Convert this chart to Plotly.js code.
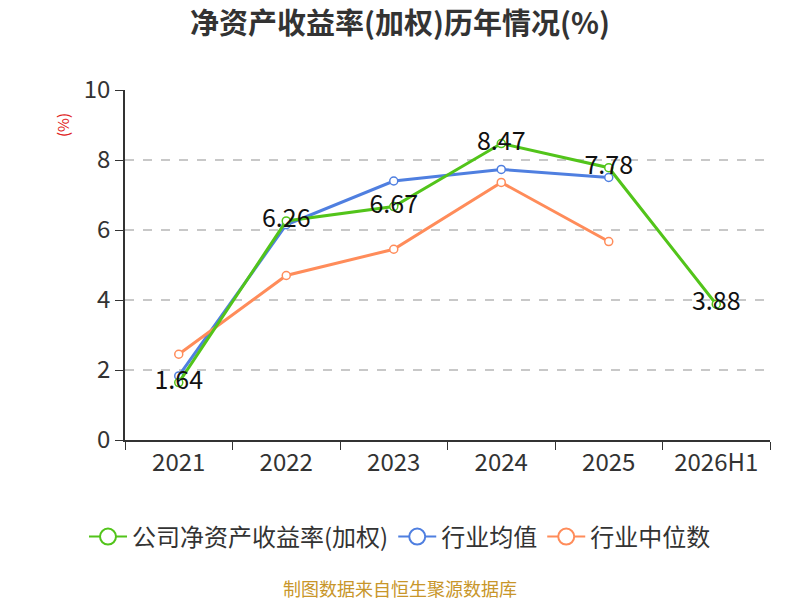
<!DOCTYPE html>
<html>
<head>
<meta charset="utf-8">
<script src="https://cdn.plot.ly/plotly-3.0.1.min.js"></script>
<style>
  html, body { margin: 0; padding: 0; background: #fff; }
  #chart { width: 800px; height: 600px; }
</style>
</head>
<body>
<div id="chart"></div>
<script>
/* ── data ── */
const years      = ["2021", "2022", "2023", "2024", "2025", "2026H1"];
const roeCompany = [1.64, 6.26, 6.67, 8.47, 7.78, 3.88];
const roeAvg     = [1.83, 6.15, 7.40, 7.73, 7.50, null];
const roeMedian  = [2.45, 4.70, 5.45, 7.36, 5.67, null];

const GREEN  = "#52c41a";
const BLUE   = "#4f7fe0";
const ORANGE = "#ff8c5a";
const FONT   = "'Noto Sans CJK SC', 'Noto Sans', sans-serif";

function series(name, y, color, withText) {
  const t = {
    type: "scatter",
    mode: withText ? "lines+markers+text" : "lines+markers",
    name: name,
    x: years,
    y: y,
    line: { color: color, width: 3 },
    marker: { symbol: "circle", size: 8, color: "#fff", line: { color: color, width: 1.5 } },
    showlegend: false,
    hoverinfo: "x+y",
  };
  if (withText) {
    t.text = y.map(v => v.toFixed(2));
    t.textposition = "middle center";
    t.textfont = { size: 25, color: "#111", family: FONT };
  }
  return t;
}

/* legend-only entries with bigger open circles */
function legendItem(name, color) {
  return {
    type: "scatter", mode: "lines+markers", name: name,
    x: [null], y: [null],
    line: { color: color, width: 2 },
    marker: { symbol: "circle", size: 16, color: "#fff", line: { color: color, width: 2 } },
    hoverinfo: "skip",
  };
}

const traces = [
  series("行业均值", roeAvg, BLUE, false),
  series("行业中位数", roeMedian, ORANGE, false),
  series("公司净资产收益率(加权)", roeCompany, GREEN, true),
  legendItem("公司净资产收益率(加权)", GREEN),
  legendItem("行业均值", BLUE),
  legendItem("行业中位数", ORANGE),
];

const layout = {
  width: 800,
  height: 600,
  paper_bgcolor: "#fff",
  plot_bgcolor: "#fff",
  font: { family: FONT, color: "#333", size: 18 },
  margin: { l: 125, r: 30, t: 90, b: 160 },
  title: {
    text: "<b>净资产收益率(加权)历年情况(%)</b>",
    font: { size: 29, color: "#333", family: FONT },
    x: 0.5, xanchor: "center",
    y: 1 - 24 / 600, yref: "container", yanchor: "middle",
  },
  xaxis: {
    type: "category",
    range: [-0.5, 5.5],
    showgrid: false,
    showline: true,
    linecolor: "#333",
    linewidth: 1.5,
    ticks: "outside",
    tickson: "boundaries",
    ticklen: 8,
    tickcolor: "#333",
    tickfont: { size: 24, color: "#333" },
    zeroline: false,
  },
  yaxis: {
    range: [0, 10],
    dtick: 2,
    showgrid: true,
    gridcolor: "#c8c8c8",
    griddash: "dash",
    gridwidth: 1.5,
    showline: true,
    linecolor: "#333",
    linewidth: 1.5,
    ticks: "outside",
    ticklen: 8,
    tickcolor: "#333",
    tickfont: { size: 24, color: "#333" },
    zeroline: false,
  },
  legend: {
    orientation: "h",
    xref: "container", yref: "container",
    x: 0.5, xanchor: "center",
    y: 1 - 537 / 600, yanchor: "middle",
    font: { size: 24, color: "#333" },
    itemwidth: 38,
    traceorder: "normal",
  },
  annotations: [
    {
      text: "(%)", xref: "paper", yref: "paper",
      x: (62 - 125) / 645, y: 0.9, showarrow: false, textangle: -90,
      xanchor: "center", yanchor: "middle",
      font: { size: 15, color: "#e02020" },
    },
    {
      text: "制图数据来自恒生聚源数据库", xref: "paper", yref: "paper",
      x: (400 - 125) / 645, y: -0.423, showarrow: false,
      xanchor: "center", yanchor: "middle",
      font: { size: 18, color: "#c8962a" },
    },
  ],
};

Plotly.newPlot("chart", traces, layout, { displayModeBar: false });
</script>
</body>
</html>
